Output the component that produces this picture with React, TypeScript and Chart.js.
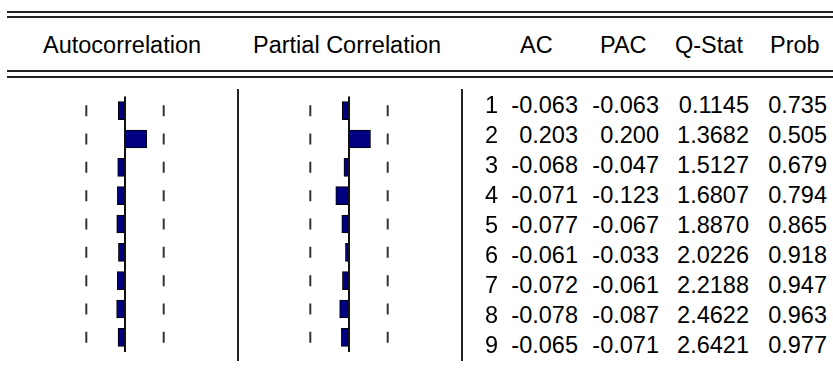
import React, { useEffect, useRef } from "react";
import { Chart, registerables } from "chart.js";

Chart.register(...registerables);

const lags = [1, 2, 3, 4, 5, 6, 7, 8, 9];
const acValues = [-0.063, 0.203, -0.068, -0.071, -0.077, -0.061, -0.072, -0.078, -0.065];
const pacValues = [-0.063, 0.2, -0.047, -0.123, -0.067, -0.033, -0.061, -0.087, -0.071];
const qStat = [0.1145, 1.3682, 1.5127, 1.6807, 1.887, 2.0226, 2.2188, 2.4622, 2.6421];
const probValues = [0.735, 0.505, 0.679, 0.794, 0.865, 0.918, 0.947, 0.963, 0.977];
const bandBound = 0.36;

const FONT = '"Liberation Sans", Arial, sans-serif';
const FS = 23.5;
const ROW_TOP = 89;
const ROW_H = 30;

function CorrPanel({ values, left }: { values: number[]; left: number }) {
  const ref = useRef<HTMLCanvasElement | null>(null);
  useEffect(() => {
    if (!ref.current) return;
    const labels = lags.map(String);
    const chart = new Chart(ref.current, {
      type: "bar",
      data: {
        labels,
        datasets: [
          {
            type: "bar",
            data: values,
            indexAxis: "y",
            backgroundColor: "#000080",
            borderColor: "#000000",
            borderWidth: 1,
            borderSkipped: "start",
            barThickness: 18,
          } as any,
          {
            type: "line",
            indexAxis: "y",
            data: lags.map(() => -bandBound),
            showLine: false,
            pointStyle: "line",
            rotation: 90,
            pointRadius: 5.5,
            pointBorderWidth: 2,
            borderColor: "#333333",
            backgroundColor: "#333333",
          } as any,
          {
            type: "line",
            indexAxis: "y",
            data: lags.map(() => bandBound),
            showLine: false,
            pointStyle: "line",
            rotation: 90,
            pointRadius: 5.5,
            pointBorderWidth: 2,
            borderColor: "#333333",
            backgroundColor: "#333333",
          } as any,
        ],
      },
      options: {
        indexAxis: "y",
        animation: false,
        responsive: false,
        events: [],
        layout: { padding: 0 },
        plugins: { legend: { display: false }, tooltip: { enabled: false } },
        scales: {
          x: {
            type: "linear",
            min: -1,
            max: 1,
            display: true,
            ticks: { display: false, stepSize: 1 },
            grid: {
              drawTicks: false,
              lineWidth: 2,
              color: (ctx: any) => (ctx.tick && ctx.tick.value === 0 ? "#111111" : "rgba(0,0,0,0)"),
            },
            border: { display: false },
          },
          y: { type: "category", display: false },
        },
      },
    });
    return () => chart.destroy();
  }, [values]);
  return (
    <canvas
      ref={ref}
      width={230}
      height={270}
      style={{ position: "absolute", left, top: ROW_TOP, width: 230, height: 270 }}
    />
  );
}

const hLine = (top: number) => (
  <div style={{ position: "absolute", left: 7, width: 826, top, height: 2, background: "#222" }} />
);
const vLine = (left: number) => (
  <div style={{ position: "absolute", left, top: 89, width: 2, height: 272, background: "#222" }} />
);

const textStyle: React.CSSProperties = {
  position: "absolute",
  fontFamily: FONT,
  fontSize: FS,
  lineHeight: "30px",
  height: 30,
  color: "#000",
  whiteSpace: "nowrap",
};

export default function App() {
  return (
    <div
      style={{
        position: "fixed",
        left: 0,
        top: 0,
        width: 833,
        height: 371,
        background: "#fff",
        overflow: "hidden",
      }}
    >
      {hLine(11)}
      {hLine(16)}
      {hLine(70)}
      {hLine(76)}
      <span style={{ ...textStyle, left: 43, top: 30 }}>Autocorrelation</span>
      <span style={{ ...textStyle, left: 253, top: 30 }}>Partial Correlation</span>
      <span style={{ ...textStyle, left: 520, top: 30 }}>AC</span>
      <span style={{ ...textStyle, left: 600, top: 30 }}>PAC</span>
      <span style={{ ...textStyle, left: 675, top: 30 }}>Q-Stat</span>
      <span style={{ ...textStyle, left: 770, top: 30 }}>Prob</span>
      {vLine(237)}
      {vLine(461)}
      <CorrPanel values={acValues} left={10} />
      <CorrPanel values={pacValues} left={234} />
      {lags.map((lag, i) => {
        const top = 90 + i * ROW_H;
        return (
          <React.Fragment key={lag}>
            <span style={{ ...textStyle, top, right: 833 - 498, textAlign: "right" }}>{lag}</span>
            <span style={{ ...textStyle, top, right: 833 - 578, textAlign: "right" }}>{acValues[i].toFixed(3)}</span>
            <span style={{ ...textStyle, top, right: 833 - 659, textAlign: "right" }}>{pacValues[i].toFixed(3)}</span>
            <span style={{ ...textStyle, top, right: 833 - 749, textAlign: "right" }}>{qStat[i].toFixed(4)}</span>
            <span style={{ ...textStyle, top, right: 833 - 827, textAlign: "right" }}>{probValues[i].toFixed(3)}</span>
          </React.Fragment>
        );
      })}
    </div>
  );
}
